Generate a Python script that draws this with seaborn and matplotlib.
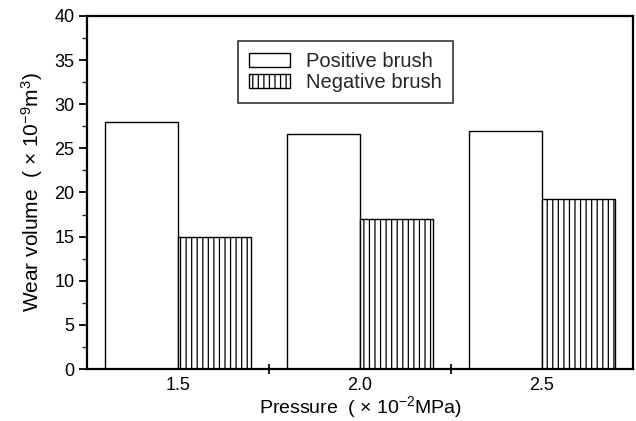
import matplotlib
matplotlib.use("Agg")
import matplotlib.pyplot as plt
from matplotlib.patches import Patch
from matplotlib.ticker import MultipleLocator, FixedLocator
import seaborn as sns
import pandas as pd

pressure = [1.5, 2.0, 2.5]
positive = [28.0, 26.6, 27.0]
negative = [15.0, 17.0, 19.3]
series = ["Positive brush", "Negative brush"]
tick_labels = ["1.5", "2.0", "2.5"]

df = pd.DataFrame({
    "pressure": pressure * 2,
    "wear": positive + negative,
    "brush": [series[0]] * 3 + [series[1]] * 3,
})

sns.set_theme(style="ticks")
plt.rcParams["font.family"] = ["Liberation Sans", "DejaVu Sans"]
plt.rcParams["mathtext.fontset"] = "custom"
plt.rcParams["mathtext.rm"] = "Liberation Sans"
plt.rcParams["mathtext.it"] = "Liberation Sans"
plt.rcParams["hatch.linewidth"] = 0.9
plt.rcParams["hatch.color"] = "black"

fig = plt.figure(figsize=(6.36, 4.21), dpi=100)
ax = fig.add_axes([87 / 636, 1 - 369 / 421, (633 - 87) / 636, (369 - 16) / 421])

sns.barplot(data=df, x="pressure", y="wear", hue="brush", native_scale=True,
            width=0.8, dodge=True, ax=ax, legend=False, errorbar=None,
            palette=["white", "white"], hue_order=series)

n = len(pressure)
for i, p in enumerate(ax.patches[: 2 * n]):
    p.set_facecolor("white")
    p.set_edgecolor("black")
    p.set_linewidth(1.0)
    if i >= n:
        p.set_hatch("|||")

ax.set_xlim(1.25, 2.75)
ax.set_ylim(0, 40)
ax.xaxis.set_major_locator(FixedLocator(pressure))
ax.set_xticklabels(tick_labels)
ax.xaxis.set_minor_locator(FixedLocator([1.75, 2.25]))
ax.yaxis.set_major_locator(MultipleLocator(5))
ax.yaxis.set_minor_locator(MultipleLocator(2.5))

ax.tick_params(axis="x", which="major", length=0, pad=6, labelsize=13, colors="black")
ax.tick_params(axis="x", which="minor", length=7, width=1.5, direction="inout")
ax.tick_params(axis="y", which="major", length=6, width=1.3, direction="out", pad=3,
               labelsize=13, colors="black")
ax.tick_params(axis="y", which="minor", length=3.5, width=1.0, direction="out")

for s in ax.spines.values():
    s.set_visible(True)
    s.set_linewidth(1.6)
    s.set_color("black")

ax.set_xlabel(r"Pressure  ( × 10$^{-2}$MPa)", fontsize=14, labelpad=0, color="black")
ax.set_ylabel(r"Wear volume  ( × 10$^{-9}$m$^{3}$)", fontsize=15, labelpad=7, color="black")

handles = [
    Patch(facecolor="white", edgecolor="black", linewidth=1.0, label=series[0]),
    Patch(facecolor="white", edgecolor="black", linewidth=1.0, hatch="|||", label=series[1]),
]
leg = ax.legend(handles=handles, loc="upper left", bbox_to_anchor=(0.277, 0.929),
                borderaxespad=0, fancybox=False, frameon=True, fontsize=14.5,
                handlelength=2.0, handleheight=0.65, handletextpad=0.8,
                borderpad=0.55, labelspacing=0.1)
leg.get_frame().set_edgecolor("black")
leg.get_frame().set_linewidth(1.2)

fig.savefig("out.png", dpi=100)
